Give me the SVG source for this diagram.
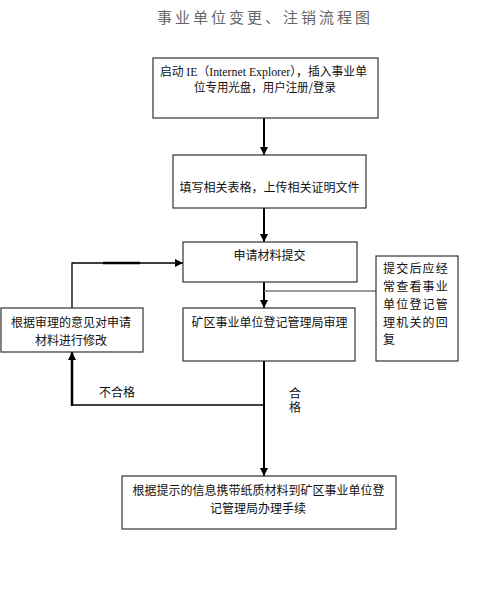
<svg xmlns="http://www.w3.org/2000/svg" width="500" height="599" viewBox="0 0 500 599">
<defs>
<style>
.box{fill:#fff;stroke:#333;stroke-width:1.2}
.t{font-family:"Noto Sans CJK SC",sans-serif;font-size:12px;fill:#111}
.c{text-anchor:middle}
.lat{font-family:"Liberation Serif",serif}
.ln{stroke:#000;fill:none}
.title{font-family:"Noto Sans CJK SC",sans-serif;font-size:15px;fill:#666;letter-spacing:3px}
</style>
<marker id="ah" markerUnits="userSpaceOnUse" markerWidth="9" markerHeight="8" refX="8" refY="4" orient="auto">
<path d="M0,0 L8,4 L0,8 Z" fill="#000"/>
</marker>
</defs>
<rect width="500" height="599" fill="#fff"/>
<text class="title" x="157" y="23">事业单位变更、注销流程图</text>

<g id="connectors">
<line class="ln" x1="264" y1="118" x2="264" y2="155" stroke-width="2" marker-end="url(#ah)"/>
<line class="ln" x1="264" y1="208" x2="264" y2="242" stroke-width="2" marker-end="url(#ah)"/>
<line class="ln" x1="264" y1="282" x2="264" y2="308" stroke-width="2" marker-end="url(#ah)"/>
<line x1="264" y1="291" x2="376" y2="291" stroke="#777" stroke-width="1.3"/>
<line class="ln" x1="264" y1="361" x2="264" y2="476" stroke-width="2" marker-end="url(#ah)"/>
<polyline class="ln" points="264,405 72,405" stroke-width="1.3"/>
<line class="ln" x1="72" y1="406" x2="72" y2="352" stroke-width="2.5" marker-end="url(#ah)"/>
<polyline class="ln" points="72,308 72,263 183,263" stroke-width="1.3" marker-end="url(#ah)"/>
<line class="ln" x1="103" y1="263" x2="140" y2="263" stroke-width="2.3"/>
<text class="t" x="99" y="396.5">不合格</text>
<text class="t" x="295" y="387.5" font-size="11.5" letter-spacing="1.5" style="writing-mode:vertical-rl;text-orientation:upright">合格</text>
</g>

<g id="n1">
<rect class="box" x="153" y="58" width="225" height="60"/>
<text class="t" x="160" y="75.5" textLength="207" lengthAdjust="spacingAndGlyphs">启动 <tspan class="lat">IE</tspan>（<tspan class="lat">Internet Explorer</tspan>），插入事业单</text>
<text class="t c" x="265" y="91.5" textLength="142" lengthAdjust="spacingAndGlyphs">位专用光盘，用户注册/登录</text>
</g>
<g id="n2">
<rect class="box" x="173" y="155" width="193" height="53"/>
<text class="t c" x="269.5" y="191.5">填写相关表格，上传相关证明文件</text>
</g>
<g id="n3">
<rect class="box" x="183" y="242" width="174" height="40"/>
<text class="t c" x="269.5" y="259.5">申请材料提交</text>
</g>
<g id="n4">
<rect class="box" x="183" y="308" width="172" height="53"/>
<text class="t c" x="269.5" y="326.5">矿区事业单位登记管理局审理</text>
</g>
<g id="n5">
<rect class="box" x="376" y="256" width="82" height="105"/>
<text class="t" x="383" y="272.5" letter-spacing="1.2">提交后应经</text>
<text class="t" x="383" y="290.5" letter-spacing="1.2">常查看事业</text>
<text class="t" x="383" y="308.5" letter-spacing="1.2">单位登记管</text>
<text class="t" x="383" y="326.5" letter-spacing="1.2">理机关的回</text>
<text class="t" x="383" y="344" letter-spacing="1.2">复</text>
</g>
<g id="n6">
<rect class="box" x="1" y="308" width="142" height="44"/>
<text class="t c" x="71" y="326.5">根据审理的意见对申请</text>
<text class="t c" x="71" y="344.5">材料进行修改</text>
</g>
<g id="n7">
<rect class="box" x="122" y="476" width="274" height="53"/>
<text class="t c" x="258.5" y="494.5">根据提示的信息携带纸质材料到矿区事业单位登</text>
<text class="t c" x="258" y="512.5">记管理局办理手续</text>
</g>
</svg>
